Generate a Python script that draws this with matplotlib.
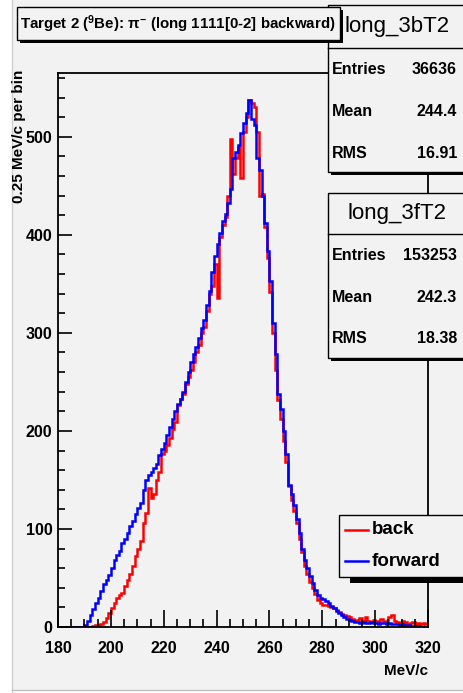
import matplotlib
matplotlib.use("Agg")
import matplotlib.pyplot as plt
import numpy as np
from matplotlib.patches import Rectangle
from matplotlib.lines import Line2D
from matplotlib.ticker import MultipleLocator

W, H = 463, 693
BG = "#f2f2f2"

# 1 MeV/c bins from 180 to 320
bin_edges = np.arange(180, 321, 1)

back = [
    0, 0, 0, 0, 0, 0, 0, 0, 0, 0, 0, 0, 0,
    1, 2, 2, 3, 5, 9, 14,
    19, 24, 30, 33, 35, 42, 48, 54, 62, 72,
    80, 88, 106, 116, 142, 132, 136, 150, 158, 176,
    180, 186, 193, 202, 209, 226, 233, 238, 248, 255,
    262, 270, 280, 288, 300, 306, 322, 340, 348, 370,
    336, 398, 410, 418, 440, 498, 462, 478, 490, 458,
    505, 520, 537, 534, 530, 505, 440, 442, 408, 376,
    342, 300, 262, 232, 212, 190, 168, 144, 130, 118,
    106, 90, 76, 62, 54, 46, 40, 34, 28, 24,
    22, 22, 21, 20, 19, 17, 15, 13, 12, 11,
    10, 8, 7, 6, 9, 6, 10, 6, 5, 7,
    6, 5, 8, 6, 5, 10, 12, 6, 5, 4,
    6, 5, 3, 4, 5, 3, 4, 3, 4, 3,
]

forward = [
    0, 0, 0, 0, 0, 0, 0, 0, 0, 0,
    2, 6, 12, 18, 24, 30, 37, 44, 48, 53,
    60, 68, 73, 78, 86, 90, 96, 103, 108, 115,
    121, 126, 140, 150, 155, 158, 162, 166, 175, 182,
    188, 196, 204, 212, 220, 227, 233, 240, 250, 260,
    270, 278, 286, 295, 305, 313, 328, 343, 362, 378,
    391, 402, 414, 421, 432, 447, 478, 484, 492, 504,
    514, 524, 537, 518, 512, 478, 466, 440, 412, 383,
    353, 310, 278, 238, 222, 200, 176, 145, 136, 124,
    110, 96, 80, 68, 60, 52, 45, 38, 33, 30,
    29, 27, 24, 21, 19, 16, 14, 12, 10, 8,
    7, 6, 5, 5, 4, 5, 4, 4, 5, 4,
    4, 3, 4, 4, 3, 4, 3, 3, 3, 2,
    3, 2, 2, 1, 1, 0, 1, 0, 0, 0,
]

title = "Target 2 ($^{9}$Be): $\\pi^{-}$ (long 1111[0-2] backward)"
stats = [
    ("long_3bT2", [("Entries", "36636"), ("Mean", "244.4"), ("RMS", "16.91")]),
    ("long_3fT2", [("Entries", "153253"), ("Mean", "242.3"), ("RMS", "18.38")]),
]
legend_labels = ["back", "forward"]
colors = ["#ff0000", "#0000ff"]

plt.rcParams["font.family"] = ["Liberation Sans", "DejaVu Sans"]
plt.rcParams["mathtext.fontset"] = "custom"
plt.rcParams["mathtext.rm"] = "Liberation Sans:bold"
plt.rcParams["mathtext.it"] = "Liberation Sans:bold"


def fx(x):
    return x / W


def fy(y):
    return 1 - y / H


def box(fig, x0, y0, x1, y1, shadow=(3, 3), z=5):
    if shadow:
        sx, sy = shadow
        fig.add_artist(Rectangle((fx(x0 + sx), fy(y1 + sy)), (x1 - x0) / W, (y1 - y0) / H,
                                 transform=fig.transFigure, facecolor="black",
                                 edgecolor="black", lw=0, zorder=z))
    fig.add_artist(Rectangle((fx(x0), fy(y1)), (x1 - x0) / W, (y1 - y0) / H,
                             transform=fig.transFigure, facecolor=BG,
                             edgecolor="black", lw=1.0, zorder=z + 0.5))


def hline(fig, x0, x1, y, color="black", lw=1.0, z=6):
    fig.add_artist(Line2D([fx(x0), fx(x1)], [fy(y), fy(y)], transform=fig.transFigure,
                          color=color, lw=lw, zorder=z))


fig = plt.figure(figsize=(W / 100, H / 100), dpi=100)
fig.patch.set_facecolor(BG)

ax = fig.add_axes([fx(58), fy(627), (428 - 58) / W, (627 - 73) / H])
ax.set_facecolor(BG)
ax.stairs(back, bin_edges, color=colors[0], lw=1.8)
ax.stairs(forward, bin_edges, color=colors[1], lw=1.8)
ax.set_xlim(180, 320)
ax.set_ylim(0, 565)

ax.xaxis.set_major_locator(MultipleLocator(20))
ax.xaxis.set_minor_locator(MultipleLocator(5))
ax.yaxis.set_major_locator(MultipleLocator(100))
ax.yaxis.set_minor_locator(MultipleLocator(20))
ax.tick_params(axis="x", which="major", direction="in", length=12, width=1.2, pad=10)
ax.tick_params(axis="x", which="minor", direction="in", length=6, width=1.2)
ax.tick_params(axis="y", which="major", direction="in", length=10, width=1.2, pad=4)
ax.tick_params(axis="y", which="minor", direction="in", length=5, width=1.2)
for lab in ax.get_xticklabels() + ax.get_yticklabels():
    lab.set_fontsize(11.5)
    lab.set_fontweight("bold")
for s in ax.spines.values():
    s.set_linewidth(1.3)

fig.text(fx(428), fy(671), "MeV/c", ha="right", va="center", fontsize=11, fontweight="bold")
fig.text(fx(19.5), fy(70), "0.25 MeV/c per bin", rotation=90, ha="center", va="top",
         fontsize=11, fontweight="bold", zorder=12)

# stats boxes
for (name, rows), (y0, ysep, y1), rows_y in zip(
        stats, [(5, 48, 172), (193, 234, 358)], [(69, 112, 153), (256, 297, 338)]):
    box(fig, 328, y0, 475, y1)
    hline(fig, 328, 475, ysep)
    fig.text(fx(397), fy((y0 + ysep) / 2), name, ha="center", va="center", fontsize=16, zorder=7)
    for (k, v), ry in zip(rows, rows_y):
        fig.text(fx(332), fy(ry), k, ha="left", va="center", fontsize=11.5,
                 fontweight="bold", zorder=7)
        fig.text(fx(457), fy(ry), v, ha="right", va="center", fontsize=11.5,
                 fontweight="bold", zorder=7)

# title box
box(fig, 17, 7, 340, 40, z=8)
fig.text(fx(178), fy(24), title, ha="center", va="center", fontsize=10.8,
         fontweight="bold", zorder=9)

# legend
box(fig, 339, 515, 475, 577, shadow=(11, 6))
for lab, c, ly in zip(legend_labels, colors, [530, 561]):
    hline(fig, 345, 368, ly, color=c, lw=1.8, z=7)
    fig.text(fx(372), fy(ly), lab, ha="left", va="center", fontsize=13.5,
             fontweight="bold", zorder=7)

# canvas edges
fig.add_artist(Rectangle((0, 0), fx(12), 1, transform=fig.transFigure,
                         facecolor="white", lw=0, zorder=10))
fig.add_artist(Rectangle((0, 0), 1, 3 / H, transform=fig.transFigure,
                         facecolor="white", lw=0, zorder=10))
fig.add_artist(Line2D([fx(12), fx(12)], [0, 1], transform=fig.transFigure,
                      color="#d0d0d0", lw=1, zorder=11))
fig.add_artist(Line2D([fx(12), 1], [3 / H, 3 / H], transform=fig.transFigure,
                      color="#c0c0c0", lw=1, zorder=11))

fig.savefig("out.png", dpi=100, facecolor=BG)
